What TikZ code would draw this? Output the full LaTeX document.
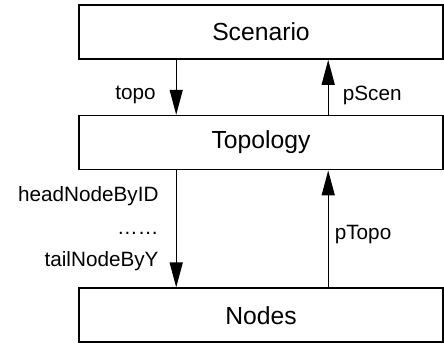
\documentclass[tikz,border=0pt]{standalone}
\usepackage{fontspec}
\setmainfont{Liberation Sans}
\usetikzlibrary{positioning,arrows.meta}

\begin{document}
\begin{tikzpicture} [
        x = 1pt, y = -1pt,
        box/.style = {rectangle, draw, line width=1.6pt, inner sep=0pt,
                      minimum width=364pt, minimum height=54pt,
                      font=\fontsize{24.7}{30}\selectfont},
        lbl/.style = {inner sep=0pt, align=right,
                      font=\fontsize{20.7}{32.5}\selectfont},
        link/.style = {line width=1.3pt,
                       -{Triangle[length=25pt, width=13pt]}}
    ]
    \useasboundingbox (0,0) rectangle (444,343);

    % the three layers
    \node (Scen) [box] at (261,32) {Scenario};
    \node (Topo) [box, below=55pt of Scen] {Topology};
    \node (Nodes) [box, below=117pt of Topo] {Nodes};

    % references between the layers
    \draw [link] ([xshift=98pt]Scen.south west) -- ([xshift=98pt]Topo.north west)
        node [lbl, pos=0.64, left=20pt] {topo};
    \draw [link] ([xshift=250pt]Topo.north west) -- ([xshift=250pt]Scen.south west)
        node [lbl, pos=0.35, right=14pt] {pScen};
    \draw [link] ([xshift=98pt]Topo.south west) -- ([xshift=98pt]Nodes.north west)
        node [lbl, pos=0.5, left=17pt] {headNodeByID\\……\\tailNodeByY};
    \draw [link] ([xshift=250pt]Nodes.north west) -- ([xshift=250pt]Topo.south west)
        node [lbl, pos=0.45, right=6pt] {pTopo};

\end{tikzpicture}
\end{document}
